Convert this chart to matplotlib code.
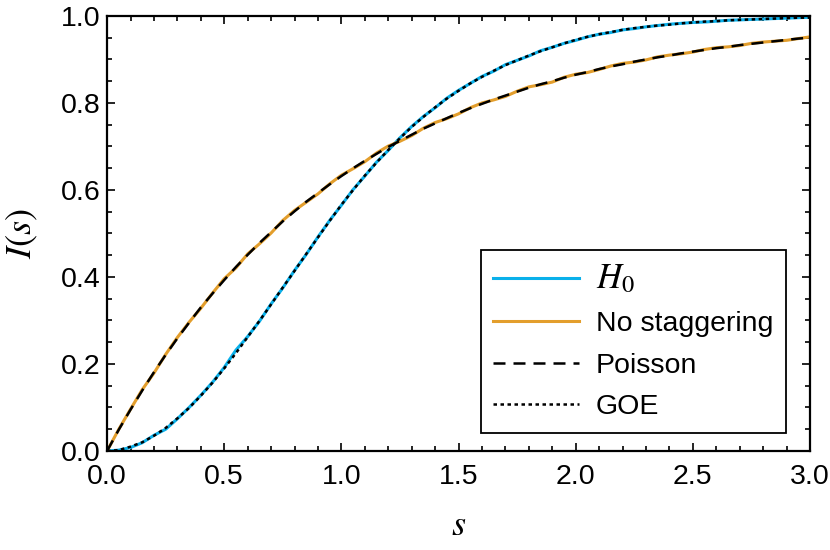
import numpy as np
import matplotlib.pyplot as plt
from matplotlib.ticker import MultipleLocator

# values (s from 0 to 3 in steps of 0.05)
s_grid = [0.00, 0.05, 0.10, 0.15, 0.20, 0.25, 0.30, 0.35, 0.40, 0.45,
          0.50, 0.55, 0.60, 0.65, 0.70, 0.75, 0.80, 0.85, 0.90, 0.95,
          1.00, 1.05, 1.10, 1.15, 1.20, 1.25, 1.30, 1.35, 1.40, 1.45,
          1.50, 1.55, 1.60, 1.65, 1.70, 1.75, 1.80, 1.85, 1.90, 1.95,
          2.00, 2.05, 2.10, 2.15, 2.20, 2.25, 2.30, 2.35, 2.40, 2.45,
          2.50, 2.55, 2.60, 2.65, 2.70, 2.75, 2.80, 2.85, 2.90, 2.95,
          3.00]

h0_vals = [0.000, 0.002, 0.008, 0.019, 0.036, 0.050, 0.074, 0.100, 0.128, 0.158,
           0.192, 0.232, 0.263, 0.298, 0.338, 0.375, 0.415, 0.452, 0.492, 0.530,
           0.565, 0.601, 0.632, 0.664, 0.691, 0.720, 0.746, 0.769, 0.789, 0.811,
           0.829, 0.845, 0.861, 0.873, 0.888, 0.898, 0.908, 0.920, 0.928, 0.937,
           0.944, 0.952, 0.958, 0.962, 0.968, 0.971, 0.975, 0.978, 0.981, 0.983,
           0.985, 0.986, 0.988, 0.990, 0.991, 0.992, 0.993, 0.994, 0.995, 0.996,
           0.997]

nostag_vals = [0.000, 0.050, 0.096, 0.141, 0.179, 0.222, 0.261, 0.296, 0.328, 0.363,
               0.396, 0.421, 0.453, 0.476, 0.501, 0.530, 0.553, 0.572, 0.591, 0.614,
               0.634, 0.649, 0.665, 0.685, 0.701, 0.712, 0.725, 0.742, 0.755, 0.764,
               0.775, 0.789, 0.800, 0.807, 0.815, 0.827, 0.837, 0.842, 0.848, 0.859,
               0.866, 0.870, 0.877, 0.885, 0.891, 0.894, 0.899, 0.906, 0.910, 0.913,
               0.917, 0.923, 0.927, 0.929, 0.932, 0.937, 0.940, 0.942, 0.944, 0.948,
               0.952]

poisson_vals = [0.000, 0.049, 0.095, 0.139, 0.181, 0.221, 0.259, 0.295, 0.330, 0.362,
                0.393, 0.423, 0.451, 0.478, 0.503, 0.528, 0.551, 0.573, 0.593, 0.613,
                0.632, 0.650, 0.667, 0.683, 0.699, 0.713, 0.727, 0.741, 0.753, 0.765,
                0.777, 0.788, 0.798, 0.808, 0.817, 0.826, 0.835, 0.843, 0.850, 0.858,
                0.865, 0.871, 0.878, 0.884, 0.889, 0.895, 0.900, 0.905, 0.909, 0.914,
                0.918, 0.922, 0.926, 0.929, 0.933, 0.936, 0.939, 0.942, 0.945, 0.948,
                0.950]

goe_vals = [0.000, 0.002, 0.010, 0.020, 0.035, 0.053, 0.075, 0.099, 0.127, 0.157,
            0.190, 0.225, 0.262, 0.299, 0.337, 0.376, 0.414, 0.453, 0.491, 0.529,
            0.566, 0.600, 0.633, 0.663, 0.692, 0.719, 0.745, 0.768, 0.790, 0.810,
            0.828, 0.845, 0.860, 0.874, 0.887, 0.898, 0.909, 0.919, 0.928, 0.937,
            0.945, 0.952, 0.958, 0.963, 0.968, 0.972, 0.975, 0.978, 0.980, 0.983,
            0.985, 0.987, 0.988, 0.990, 0.991, 0.992, 0.993, 0.994, 0.995, 0.996,
            0.996]

plt.rcParams['font.family'] = ['Liberation Sans', 'DejaVu Sans']
plt.rcParams['mathtext.fontset'] = 'stix'

fig = plt.figure(figsize=(8.3, 5.5), dpi=100)
ax = fig.add_axes([0.129, 0.18, 0.847, 0.791])

ax.plot(s_grid, h0_vals, color='#0AB0EA', lw=2.2, label='$H_0$')
ax.plot(s_grid, nostag_vals, color='#E39E2C', lw=2.2, label='No staggering')
ax.plot(s_grid, poisson_vals, color='black', lw=1.8, ls=(0, (4.8, 3.2)), label='Poisson')
ax.plot(s_grid, goe_vals, color='black', lw=1.8, ls=(0, (1.4, 1.4)), label='GOE')

ax.set_xlim(0, 3)
ax.set_ylim(0, 1)
ax.xaxis.set_major_locator(MultipleLocator(0.5))
ax.xaxis.set_minor_locator(MultipleLocator(0.1))
ax.yaxis.set_major_locator(MultipleLocator(0.2))
ax.yaxis.set_minor_locator(MultipleLocator(0.05))
ax.xaxis.set_major_formatter(plt.FormatStrFormatter('%.1f'))
ax.yaxis.set_major_formatter(plt.FormatStrFormatter('%.1f'))

ax.tick_params(which='both', direction='in', top=True, right=True, width=1.2, labelsize=20.5)
ax.tick_params(which='major', length=6)
ax.tick_params(which='minor', length=3.5)
ax.tick_params(axis='x', pad=9)
ax.tick_params(axis='y', pad=5)
for sp in ax.spines.values():
    sp.set_linewidth(1.6)

ax.set_xlabel('$s$', fontsize=26, labelpad=13)
ax.set_ylabel('$I(s)$', fontsize=26)
ax.yaxis.set_label_coords(-0.095, 0.5)

leg = ax.legend(loc='lower right', bbox_to_anchor=(0.966, 0.041), borderaxespad=0,
                fontsize=20.5, handlelength=3.0, labelspacing=0.55, fancybox=False,
                edgecolor='black', framealpha=1, borderpad=0.45, handletextpad=0.6)
leg.get_frame().set_linewidth(1.3)
leg.get_texts()[0].set_fontsize(25)

fig.savefig('out.png', dpi=100)
